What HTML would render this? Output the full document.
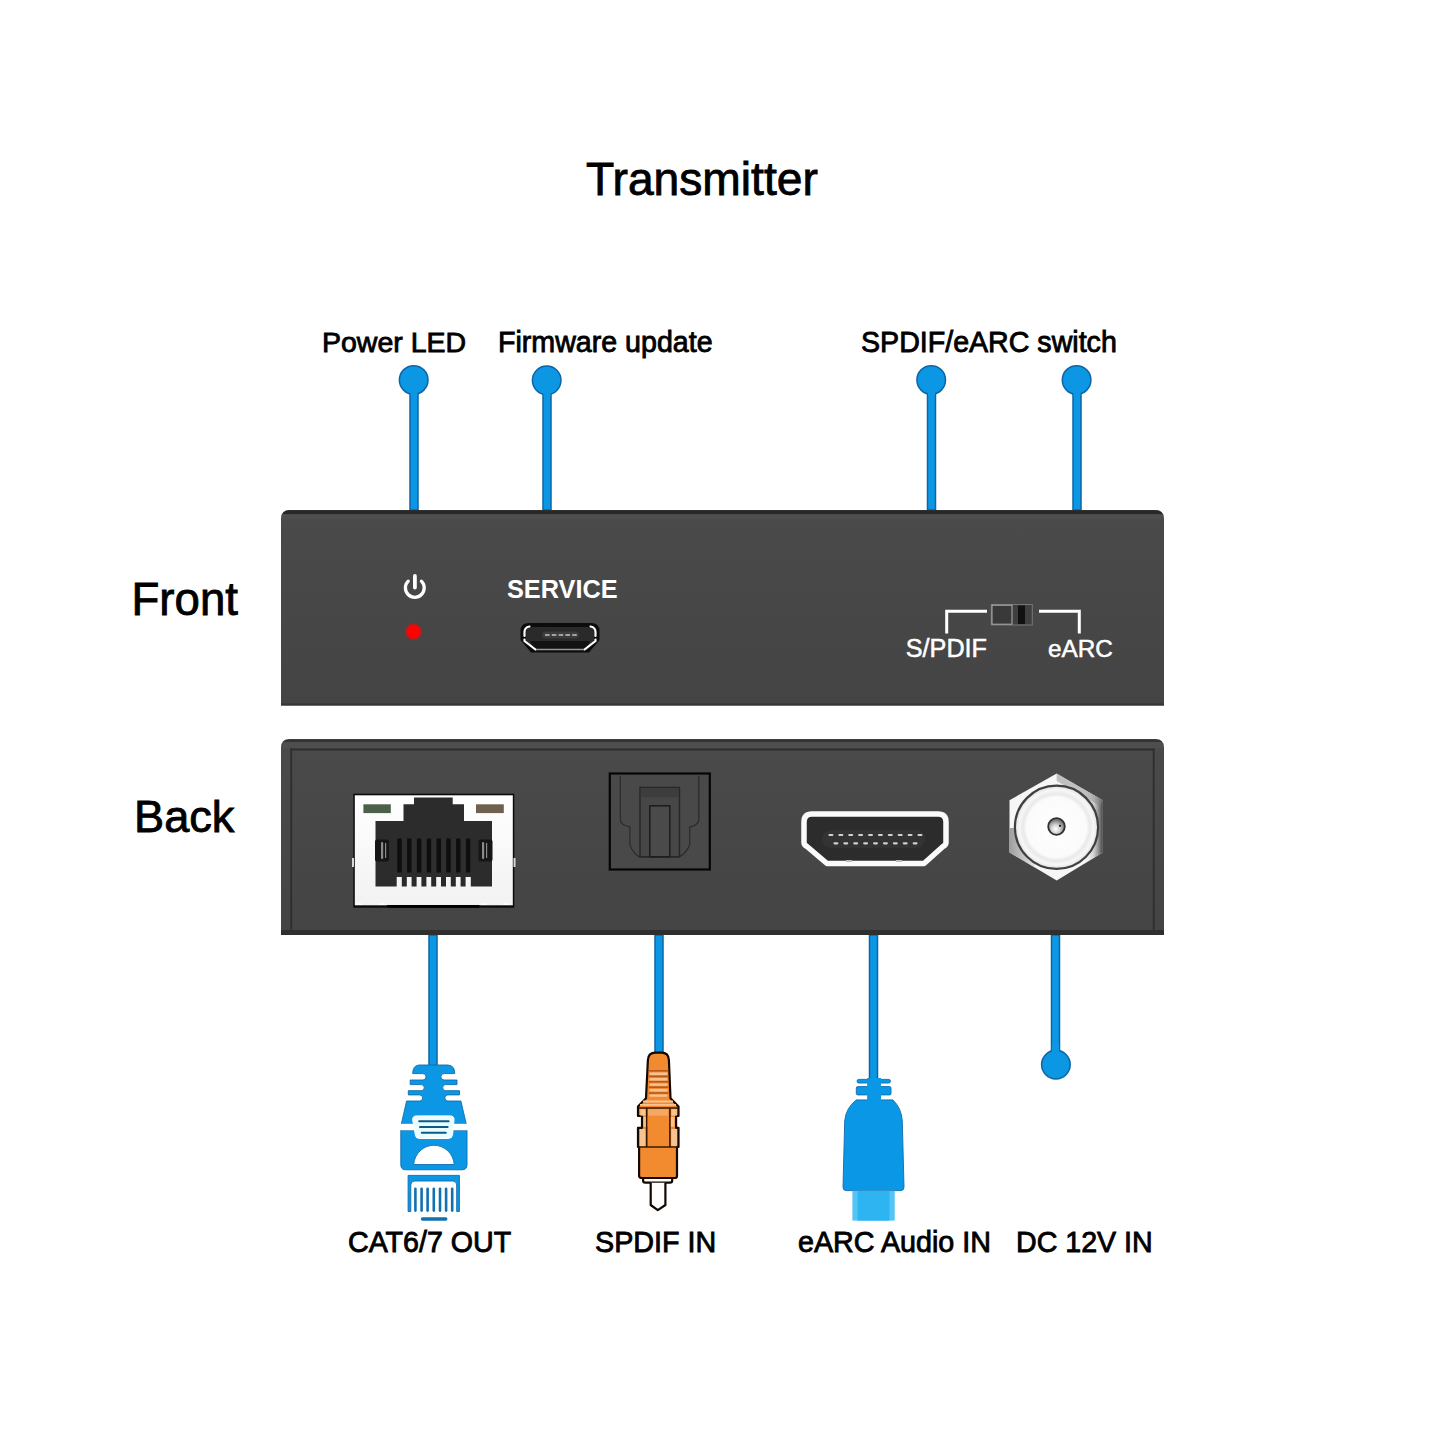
<!DOCTYPE html>
<html><head><meta charset="utf-8">
<style>
html,body{margin:0;padding:0;background:#fff;width:1445px;height:1445px;overflow:hidden}
svg{position:absolute;left:0;top:0;display:block}
text{font-family:"Liberation Sans",sans-serif}
</style></head>
<body>
<svg width="1445" height="1445" viewBox="0 0 1445 1445">
<rect x="0" y="0" width="1445" height="1445" fill="#ffffff"/>

<!-- Title & labels -->
<g fill="#000" stroke="#000" stroke-width="0.85">
<text x="586" y="194.5" font-size="46.2">Transmitter</text>
<text x="322" y="352.3" font-size="28.5">Power LED</text>
<text x="498" y="352.3" font-size="28.6">Firmware update</text>
<text x="861" y="352.4" font-size="28.6">SPDIF/eARC switch</text>
<text x="131.5" y="615" font-size="45.6">Front</text>
<text x="134" y="831.8" font-size="45.2">Back</text>
<text x="348" y="1251.8" font-size="28.6">CAT6/7 OUT</text>
<text x="595" y="1251.8" font-size="28.7">SPDIF IN</text>
<text x="798" y="1251.8" font-size="28.7">eARC Audio IN</text>
<text x="1016" y="1251.8" font-size="28.6">DC 12V IN</text>
</g>

<!-- Blue leader lines -->
<g fill="#0c97e4" stroke="#0d65a5" stroke-width="1.5">
<rect x="410" y="385" width="8" height="125"/>
<rect x="543" y="385" width="8" height="125"/>
<rect x="927.5" y="385" width="8" height="125"/>
<rect x="1073" y="385" width="8" height="125"/>
<rect x="429" y="935" width="8" height="133"/>
<rect x="655" y="935" width="8" height="120"/>
<rect x="869.5" y="935" width="8" height="146"/>
<rect x="1051.5" y="935" width="8" height="125"/>
<circle cx="413.7" cy="380" r="14.3"/>
<circle cx="546.7" cy="380.3" r="14.3"/>
<circle cx="931.2" cy="380" r="14.3"/>
<circle cx="1076.6" cy="380" r="14.3"/>
<circle cx="1055.9" cy="1064.6" r="14.3"/>
</g>
<g fill="#0c97e4">
<rect x="410.5" y="388" width="7" height="8"/>
<rect x="543.5" y="388" width="7" height="8"/>
<rect x="928" y="388" width="7" height="8"/>
<rect x="1073.5" y="388" width="7" height="8"/>
<rect x="1052" y="1045" width="7" height="8"/>
</g>


<defs>
<linearGradient id="pg" x1="0" y1="0" x2="0" y2="1">
<stop offset="0" stop-color="#4a4a4a"/><stop offset="1" stop-color="#444444"/>
</linearGradient>
</defs>
<!-- Front panel -->
<path d="M281,705.5 L281,518.5 Q281,510 289.5,510 L1155.5,510 Q1164,510 1164,518.5 L1164,705.5 Z" fill="url(#pg)"/>
<path d="M282.5,514.3 Q284,510.3 290,510.3 L1155,510.3 Q1161,510.3 1162.5,514.3 Z" fill="#282828"/>
<rect x="282.5" y="514.3" width="880" height="5.5" fill="#4e4e4e"/>
<rect x="281" y="703.5" width="883" height="2" fill="#353535"/>

<!-- Back panel -->
<path d="M281,935 L281,747.5 Q281,739 289.5,739 L1155.5,739 Q1164,739 1164,747.5 L1164,935 Z" fill="url(#pg)"/>
<path d="M283,742 Q285,739.5 290,739.5 L1155,739.5 Q1160,739.5 1162,742 Z" fill="#333"/>
<rect x="283" y="742" width="879" height="6.5" fill="#4e4e4e"/>
<rect x="290.5" y="748.5" width="864" height="2" fill="#2e2e2e"/>
<rect x="290.3" y="748.5" width="1.8" height="182" fill="#2e2e2e"/>
<rect x="1152.8" y="748.5" width="1.8" height="182" fill="#2e2e2e"/>
<rect x="281" y="930" width="883" height="5" fill="#2f2f2f"/>


<!-- Front panel details -->
<g fill="none" stroke="#fff" stroke-width="3.3" stroke-linecap="round">
<path d="M408.2,581.2 A9.4,9.4 0 1 0 421.4,581.2"/>
<line x1="414.9" y1="576" x2="414.9" y2="587.6" stroke-width="3.8"/>
</g>
<defs>
<radialGradient id="led" cx="0.5" cy="0.5" r="0.5">
<stop offset="0" stop-color="#ff0000"/><stop offset="0.62" stop-color="#fd0303"/><stop offset="0.85" stop-color="#c01818" stop-opacity="0.7"/><stop offset="1" stop-color="#803030" stop-opacity="0"/>
</radialGradient>
</defs>
<circle cx="413.5" cy="631.7" r="9.2" fill="url(#led)"/>
<text x="507" y="597.7" font-size="25.3" font-weight="bold" fill="#fff">SERVICE</text>

<!-- micro usb -->
<path d="M529,623 L591,623 Q599.5,623 599.5,631 L599.5,640 L589,652.5 L531,652.5 L520.5,640 L520.5,631 Q520.5,623 529,623 Z" fill="#0c0c0c"/>
<path d="M526,633 L526,640.5 Q526,642 534,650 L587,650 Q594,642 594,640.5 L594,633 Q594,627 588,627 L532,627 Q526,627 526,633 Z" fill="#2a2a2a"/>
<path d="M530,641 L590,641 L586,649 L534,649 Z" fill="#121212"/>
<g fill="none" stroke="#fff" stroke-width="2.2" stroke-linecap="round">
<path d="M524.5,636 L524.5,632 Q524.5,627.5 529.5,626.5"/>
<path d="M595.5,636 L595.5,632 Q595.5,627.5 590.5,626.5"/>
<path d="M524.5,639.5 L524.5,641 L535.5,649.5"/>
<path d="M595.5,639.5 L595.5,641 L584.5,649.5"/>
</g>
<line x1="536" y1="649.6" x2="584" y2="649.6" stroke="#9a9a9a" stroke-width="1.5"/>
<rect x="542" y="631.5" width="37" height="7" rx="3.5" fill="#3b3b3b"/>
<line x1="545" y1="635" x2="577" y2="635" stroke="#c4c4c4" stroke-width="1.6" stroke-dasharray="4.6 2.2"/>

<!-- switch -->
<g fill="none" stroke="#fff" stroke-width="3">
<path d="M946.7,633.5 L946.7,611.3 L987,611.3"/>
<path d="M1039,611.3 L1079.3,611.3 L1079.3,633.5"/>
</g>
<rect x="991.3" y="604.5" width="41" height="20.5" fill="#3f3f3f" stroke="#777" stroke-width="1"/>
<rect x="992" y="605.2" width="20" height="19" fill="#393939" stroke="#b0b0b0" stroke-width="1"/>
<rect x="1018" y="605.5" width="7" height="18.5" fill="#111"/>
<text x="905.8" y="657" font-size="25.2" fill="#fff" stroke="#fff" stroke-width="0.5">S/PDIF</text>
<text x="1048" y="657" font-size="24.3" fill="#fff" stroke="#fff" stroke-width="0.5">eARC</text>


<!-- RJ45 jack -->
<rect x="353.3" y="793.7" width="161" height="114" fill="#0a0a0a"/>
<defs>
<linearGradient id="rjw" x1="0" y1="0" x2="0" y2="1">
<stop offset="0" stop-color="#ffffff"/><stop offset="1" stop-color="#f2f2f2"/>
</linearGradient>
</defs>
<rect x="354.8" y="795.3" width="158" height="110" fill="url(#rjw)"/>
<rect x="363.4" y="804.3" width="27.4" height="8.8" fill="#4b6149"/>
<rect x="476" y="804.3" width="27.8" height="8.8" fill="#6f604f"/>
<path d="M414,797.5 L452.7,797.5 L452.7,804.3 L464,804.3 L464,821 L492,821 L492,886.5 L470.8,886.5 L470.8,877 L396.7,877 L396.7,886.5 L375.5,886.5 L375.5,821 L403.5,821 L403.5,804.3 L414,804.3 Z" fill="#2c2c2c"/>
<rect x="402.2" y="838.5" width="4.9" height="34" fill="#2f2f2f"/><rect x="412.0" y="838.5" width="4.9" height="34" fill="#2f2f2f"/><rect x="421.8" y="838.5" width="4.9" height="34" fill="#2f2f2f"/><rect x="431.6" y="838.5" width="4.9" height="34" fill="#2f2f2f"/><rect x="441.4" y="838.5" width="4.9" height="34" fill="#2f2f2f"/><rect x="451.2" y="838.5" width="4.9" height="34" fill="#2f2f2f"/><rect x="461.0" y="838.5" width="4.9" height="34" fill="#2f2f2f"/>
<rect x="397.3" y="838.5" width="4.4" height="34" fill="#0e0e0e"/><rect x="407.1" y="838.5" width="4.4" height="34" fill="#0e0e0e"/><rect x="416.9" y="838.5" width="4.4" height="34" fill="#0e0e0e"/><rect x="426.7" y="838.5" width="4.4" height="34" fill="#0e0e0e"/><rect x="436.5" y="838.5" width="4.4" height="34" fill="#0e0e0e"/><rect x="446.3" y="838.5" width="4.4" height="34" fill="#0e0e0e"/><rect x="456.1" y="838.5" width="4.4" height="34" fill="#0e0e0e"/><rect x="465.9" y="838.5" width="4.4" height="34" fill="#0e0e0e"/>
<rect x="401.8" y="877" width="5" height="9.5" fill="#2a2a2a"/><rect x="411.6" y="877" width="5" height="9.5" fill="#2a2a2a"/><rect x="421.4" y="877" width="5" height="9.5" fill="#2a2a2a"/><rect x="431.2" y="877" width="5" height="9.5" fill="#2a2a2a"/><rect x="441.0" y="877" width="5" height="9.5" fill="#2a2a2a"/><rect x="450.8" y="877" width="5" height="9.5" fill="#2a2a2a"/><rect x="460.6" y="877" width="5" height="9.5" fill="#2a2a2a"/>
<rect x="375" y="839.5" width="14" height="22" rx="2" fill="#151515"/>
<rect x="478.5" y="839.5" width="14" height="22" rx="2" fill="#151515"/>
<g fill="#8a8a8a"><rect x="381" y="842" width="2.2" height="17" rx="1"/><rect x="385" y="843" width="1.2" height="15"/><rect x="482" y="842" width="2.2" height="17" rx="1"/><rect x="486" y="843" width="1.2" height="15"/></g>
<g fill="#d8d8d8"><rect x="352" y="858" width="2" height="9"/><rect x="513.5" y="858" width="2" height="9"/></g>
<rect x="387" y="905" width="92.5" height="2.8" fill="#000"/>
<g fill="#fff"><rect x="356" y="903.5" width="6" height="1.5"/><rect x="379" y="903.5" width="6" height="1.5"/><rect x="481" y="903.5" width="6" height="1.5"/><rect x="503" y="903.5" width="6" height="1.5"/></g>

<!-- Optical -->
<rect x="609.8" y="773.5" width="100" height="96" fill="#494949" stroke="#050505" stroke-width="2.2"/>
<path d="M620.3,775.8 L620.3,819.8 Q621,825.5 629.9,826.9 L629.9,844.7 Q632,852 639,856.8 L679.7,856.8 Q687,852 689.7,844.7 L689.7,826.9 Q698,825.5 698.8,819.8 L698.8,775.8" fill="none" stroke="#2a2a2a" stroke-width="1.2"/>
<rect x="640" y="787.5" width="39.5" height="69.3" fill="#474747" stroke="#262626" stroke-width="1.4"/>
<rect x="640.7" y="788.2" width="38" height="9" fill="#3d3d3d"/>
<rect x="649.8" y="805.8" width="20" height="51" fill="#4a4a4a" stroke="#1e1e1e" stroke-width="1.6"/>

<!-- HDMI -->
<path d="M812,814 L938,814 Q946,814 946,822 L946,842.5 Q946,845 943,846.5 L924,863.5 L827,863.5 L807,846.5 Q804,845 804,842.5 L804,822 Q804,814 812,814 Z" fill="#2c2c2c" stroke="#fafafa" stroke-width="5.5" stroke-linejoin="round"/>
<rect x="822" y="830" width="103" height="18" rx="9" fill="#333333"/>
<line x1="829.5" y1="835" x2="922" y2="835" stroke="#d0d0d0" stroke-width="2.2" stroke-dasharray="2.8 7.1" stroke-linecap="round"/>
<line x1="834.5" y1="843.3" x2="917" y2="843.3" stroke="#d0d0d0" stroke-width="2.2" stroke-dasharray="2.8 7.1" stroke-linecap="round"/>
<rect x="846" y="860" width="6" height="2" fill="#bbb"/>
<rect x="896" y="860" width="6" height="2" fill="#bbb"/>

<!-- DC jack (hex nut) -->
<defs>
<clipPath id="hexclip"><path d="M1056.7,773.6 L1102.8,800.2 L1102.8,852.5 L1056.7,880.6 L1009.5,852.5 L1009.5,800.2 Z"/></clipPath>
<linearGradient id="hexR" x1="0" y1="0" x2="1" y2="0">
<stop offset="0" stop-color="#ffffff" stop-opacity="0"/><stop offset="0.55" stop-color="#b8b8b8" stop-opacity="0.6"/><stop offset="1" stop-color="#3c3c3c"/>
</linearGradient>
<linearGradient id="hexL" x1="0" y1="0" x2="1" y2="0">
<stop offset="0" stop-color="#9c9c9c"/><stop offset="1" stop-color="#e6e6e6"/>
</linearGradient>
<radialGradient id="discg" cx="0.5" cy="0.5" r="0.5">
<stop offset="0" stop-color="#ffffff"/><stop offset="0.72" stop-color="#fbfbfb"/><stop offset="0.8" stop-color="#e9e9e9"/><stop offset="0.9" stop-color="#f7f7f7"/><stop offset="1" stop-color="#dedede"/>
</radialGradient>
<radialGradient id="ping" cx="0.45" cy="0.65" r="0.55">
<stop offset="0" stop-color="#ffffff"/><stop offset="0.45" stop-color="#d6d6d6"/><stop offset="1" stop-color="#777"/>
</radialGradient>
</defs>
<g clip-path="url(#hexclip)">
<rect x="1009" y="773" width="95" height="108" fill="#f6f6f6"/>
<path d="M1009,828 L1035,828 L1035,872 L1009,872 Z" fill="url(#hexL)"/>
<rect x="1082" y="773" width="21" height="108" fill="url(#hexR)"/>
<path d="M1056.7,773.6 L1102.8,800.2 L1100,806 L1056.7,781 Z" fill="#8a8a8a" opacity="0.5"/>
</g>
<circle cx="1056.5" cy="827.3" r="41.6" fill="url(#discg)" stroke="#404040" stroke-width="2.2"/>
<circle cx="1056.5" cy="826.5" r="8.3" fill="url(#ping)" stroke="#303030" stroke-width="1.8"/>
<circle cx="1060" cy="825.8" r="1.1" fill="#111"/>

<!-- RJ45 plug -->
<g fill="#0c97e4" stroke="#0e6cae" stroke-width="0.9" stroke-linejoin="round">
<path d="M419,1065 L448,1065 Q454.8,1065.5 454.8,1073.6 L444.1,1073.6 A3.2,3.2 0 0 0 444.1,1080 L457,1080 L457,1084.6 L445.7,1084.6 A3.05,3.05 0 0 0 445.7,1090.7 L459.5,1090.7 L459.5,1094.9 L447.9,1094.9 A3.05,3.05 0 0 0 447.9,1101 L460.9,1101 L466.2,1123.7 L401.4,1123.7 L406.6,1101 L419.6,1101 A3.05,3.05 0 0 0 419.6,1094.9 L408.3,1094.9 L408.3,1090.7 L421.2,1090.7 A3.05,3.05 0 0 0 421.2,1084.6 L410.2,1084.6 L410.2,1080 L422.8,1080 A3.2,3.2 0 0 0 422.8,1073.6 L412.7,1073.6 Q412.7,1065.5 419,1065 Z"/>
<path d="M400.8,1130.3 L467,1130.3 L467,1164.8 Q467,1169.8 462,1169.8 L405.8,1169.8 Q400.8,1169.8 400.8,1164.8 Z"/>
<path d="M408.1,1211.5 L408.1,1175.4 L459.4,1175.4 L459.4,1211.5 L456.7,1211.5 L456.7,1185 Q456.7,1181 452.7,1181 L414.8,1181 Q410.8,1181 410.8,1185 L410.8,1211.5 Z"/>
</g>
<path d="M416.5,1115.9 L450.2,1115.9 Q454.4,1115.9 454,1120 L452.6,1134.5 Q452.2,1138.5 448.2,1138.5 L419.5,1138.5 Q415.5,1138.5 415.3,1134.5 L412.7,1120 Q412.4,1115.9 416.5,1115.9 Z" fill="#e9fcff" stroke="#ffffff" stroke-width="1"/>
<path d="M413.6,1123.7 L401.4,1123.7 L400.8,1130.3 L415.5,1130.3" fill="#fff"/>
<path d="M453.8,1123.7 L466.2,1123.7 L467,1130.3 L452.8,1130.3" fill="#fff"/>
<g stroke="#0c5a86" stroke-width="2" stroke-linecap="round">
<line x1="419.2" y1="1121.2" x2="448.6" y2="1121.2"/>
<line x1="420" y1="1127" x2="447.6" y2="1127"/>
<line x1="421.8" y1="1132.8" x2="445.8" y2="1132.8"/>
</g>
<path d="M413.7,1164.5 A20.3,20.7 0 0 1 454.2,1164.5 Z" fill="#ffffff" stroke="#1170b0" stroke-width="0.9"/>
<g stroke="#1170b0" stroke-width="2.6" stroke-linecap="round"><line x1="415.4" y1="1188.8" x2="415.4" y2="1210.6"/><line x1="421.6" y1="1188.8" x2="421.6" y2="1210.6"/><line x1="427.6" y1="1188.8" x2="427.6" y2="1210.6"/><line x1="433.8" y1="1188.8" x2="433.8" y2="1210.6"/><line x1="440" y1="1188.8" x2="440" y2="1210.6"/><line x1="446.1" y1="1188.8" x2="446.1" y2="1210.6"/><line x1="452.2" y1="1188.8" x2="452.2" y2="1210.6"/>
<line x1="422.5" y1="1219" x2="445.8" y2="1219" stroke-width="3.3"/>
</g>

<!-- RCA plug -->
<g stroke="#150800" stroke-width="2.2" stroke-linejoin="round">
<path d="M647.9,1060 Q648.3,1052.7 655.5,1052.7 L661.5,1052.7 Q668.5,1052.7 668.9,1060 L670.5,1098.3 L678.5,1106.4 L678.5,1116 L676.1,1116 L676.1,1127.8 L678.5,1127.8 L678.5,1147 L677,1147 L677,1176 Q677,1178 675,1178 L642,1178 Q639.1,1178 639.1,1176 L639.1,1147 L638,1147 L638,1127.8 L642,1127.8 L642,1116 L638,1116 L638,1106.4 L646,1098.3 Z" fill="#f28b30"/>
<path d="M643.1,1178 L672.2,1178 L672.2,1180.5 Q672.2,1182.7 670,1182.7 L645.3,1182.7 Q643.1,1182.7 643.1,1180.5 Z" fill="#fff"/>
<path d="M650.7,1182.7 L650.7,1205 L657.8,1210.2 L665.4,1205 L665.4,1182.7" fill="#fff"/>
</g>
<g fill="#f7c391"><rect x="649.5" y="1072.6" width="18" height="2.4" rx="1"/><rect x="649.5" y="1078.0" width="18" height="2.4" rx="1"/><rect x="649.5" y="1083.4" width="18" height="2.4" rx="1"/><rect x="649.5" y="1089.0" width="18" height="2.4" rx="1"/><rect x="649.5" y="1094.4" width="18" height="2.4" rx="1"/>
<rect x="643" y="1100.5" width="30" height="2" /><rect x="640" y="1104" width="36" height="1.8"/>
<rect x="640.3" y="1109.2" width="5.4" height="6.4"/><rect x="648.2" y="1109.2" width="20" height="6.4" fill="#f5a866"/><rect x="671.4" y="1109.2" width="5.5" height="6.4"/>
<rect x="643.4" y="1117" width="4.2" height="9.8"/><rect x="670.2" y="1117" width="4.2" height="9.8"/>
<rect x="639.8" y="1129" width="5.6" height="17"/><rect x="671.2" y="1129" width="5.8" height="17"/>
</g>
<g fill="#b65a1c"><rect x="648.8" y="1070.0" width="19.5" height="1.6"/><rect x="648.8" y="1075.6" width="19.5" height="1.6"/><rect x="648.8" y="1081.0" width="19.5" height="1.6"/><rect x="648.8" y="1086.4" width="19.5" height="1.6"/><rect x="648.8" y="1092.2" width="19.5" height="1.6"/></g>
<g stroke="#3a1800" stroke-width="1.6">
<line x1="638.5" y1="1108" x2="678" y2="1108"/>
<line x1="646.7" y1="1108" x2="646.7" y2="1147"/>
<line x1="669.9" y1="1108" x2="669.9" y2="1147"/>
<line x1="638.5" y1="1147" x2="678" y2="1147"/>
</g>

<!-- HDMI plug -->
<g fill="#0a98e6" stroke="#0e6cae" stroke-width="0.9">
<rect x="857.1" y="1079.4" width="33.3" height="3.6" rx="1.6"/>
<rect x="856.3" y="1086.6" width="34.7" height="8.3" rx="1.5"/>
<path d="M856.3,1099.9 L892.9,1099.9 Q901.5,1108 902.3,1121 L904,1187 Q904,1190.6 901,1190.6 L846,1190.6 Q843,1190.6 843,1187 L844.7,1121 Q845.8,1108 856.3,1099.9 Z"/>
</g>
<rect x="867.1" y="1078" width="13.9" height="23" fill="#0a98e6"/>
<rect x="852.4" y="1190.8" width="42.3" height="29.8" fill="#52c4f6"/>
<rect x="857.6" y="1190.8" width="31.8" height="29.8" fill="#2fb4f2"/>

</svg>
</body></html>
